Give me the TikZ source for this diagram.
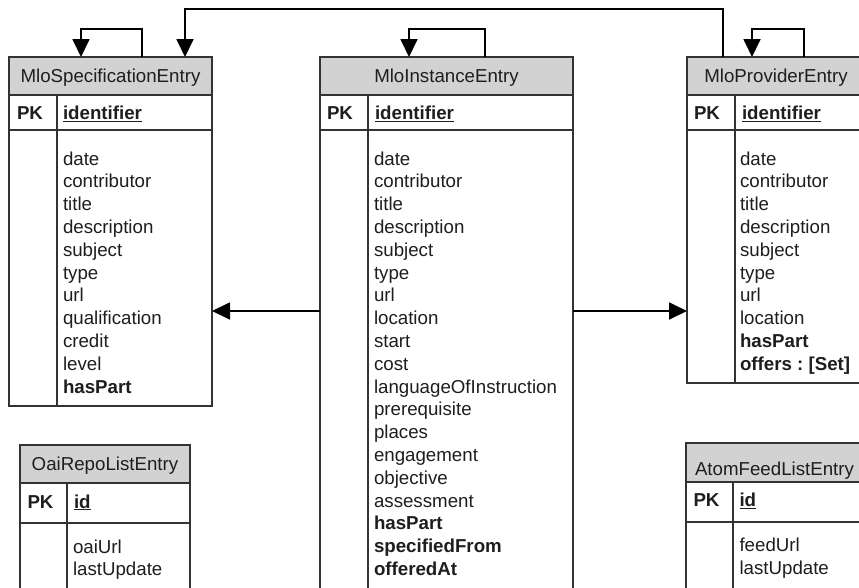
\documentclass[tikz,border=0pt]{standalone}
\usepackage{fontspec}
\setmainfont{Liberation Sans}
\usetikzlibrary{arrows.meta,fit}
\definecolor{hdrfill}{HTML}{D2D2D2}
\definecolor{rule}{HTML}{333333}
\definecolor{ink}{HTML}{1E1E1E}
\frenchspacing

% one entity table: header box, key row, body and the column divider
% #1 name, #2 left, #3 right, #4 top, #5 key-row top, #6 body top, #7 bottom, #8 divider x
\newcommand\erTable[8]{%
  \node[hdr, fit={(#2,#4) (#3,#5)}] (#1-h) {};
  \node[box, fit={(#2,#5) (#3,#6)}] (#1-k) {};
  \node[box, fit={(#2,#6) (#3,#7)}] (#1-b) {};
  \draw[box] (#1-k.north west -| #8,0) -- (#1-b.south west -| #8,0);
}

\begin{document}
\begin{tikzpicture}[x=1pt,y=-1pt,
  box/.style={draw=rule, line width=1.5pt, inner sep=0pt, outer sep=0pt},
  hdr/.style={box, fill=hdrfill},
  txt/.style={inner sep=0pt, outer sep=0pt, text=ink,
    font=\fontsize{18.7pt}{22.8pt}\selectfont},
  title/.style={txt, anchor=base},
  attr/.style={txt, anchor=base west},
  conn/.style={draw=black, line width=1.8pt,
    -{Triangle[length=18pt,width=17pt]}},
]
\clip (0,0) rectangle (859,587);
\fill[white] (0,0) rectangle (859,587);

% tables
\erTable{spec}{9}{212}{57}{95}{130}{406}{57}
\erTable{inst}{320}{573}{57}{95}{130}{620}{368}
\erTable{prov}{687}{865}{57}{95}{130}{383}{735}
\erTable{oai}{20}{190}{445}{483}{523}{620}{67}
\erTable{atom}{686}{863}{443}{482}{522}{620}{733}

% titles
\node[title] (spec-t) at (110.5,82) {MloSpecificationEntry};
\node[title] (inst-t) at (446.5,82) {MloInstanceEntry};
\node[title] (prov-t) at (776,82) {MloProviderEntry};
\node[title] (oai-t) at (105,470.7) {OaiRepoListEntry};
\node[title] (atom-t) at (774.5,475) {AtomFeedListEntry};

% primary keys
\node[attr] (spec-pk) at (17,119.5) {\textbf{PK}};
\node[attr] (spec-id) at (63,119.5) {\textbf{\underline{identifier}}};
\node[attr] (inst-pk) at (327,119.5) {\textbf{PK}};
\node[attr] (inst-id) at (375,119.5) {\textbf{\underline{identifier}}};
\node[attr] (prov-pk) at (694,119.5) {\textbf{PK}};
\node[attr] (prov-id) at (742,119.5) {\textbf{\underline{identifier}}};
\node[attr] (oai-pk) at (27.5,508) {\textbf{PK}};
\node[attr] (oai-id) at (74,508) {\textbf{\underline{id}}};
\node[attr] (atom-pk) at (693.5,506.7) {\textbf{PK}};
\node[attr] (atom-id) at (739.5,506.7) {\textbf{\underline{id}}};

% attributes
\foreach \t [count=\i from 0] in {date,contributor,title,description,subject,type,url,qualification,credit,level,\textbf{hasPart}}
  \node[attr] (spec-a\i) at (63,165+22.8*\i) {\t};
\foreach \t [count=\i from 0] in {date,contributor,title,description,subject,type,url,location,start,cost,languageOfInstruction,prerequisite,places,engagement,objective,assessment,\textbf{hasPart},\textbf{specifiedFrom},\textbf{offeredAt}}
  \node[attr] (inst-a\i) at (374,165+22.8*\i) {\t};
\foreach \t [count=\i from 0] in {date,contributor,title,description,subject,type,url,location,\textbf{hasPart},\textbf{offers : [Set]}}
  \node[attr] (prov-a\i) at (740,165+22.8*\i) {\t};
\foreach \t [count=\i from 0] in {oaiUrl,lastUpdate}
  \node[attr] (oai-a\i) at (73,553+22.8*\i) {\t};
\foreach \t [count=\i from 0] in {feedUrl,lastUpdate}
  \node[attr] (atom-a\i) at (739.5,551.7+22.8*\i) {\t};

% connectors
\coordinate (midrow) at (0,311);
\draw[conn] ([xshift=133pt]spec-h.north west) -- ++(0,-28) -| ([xshift=72pt]spec-h.north west);
\draw[conn] ([xshift=165pt]inst-h.north west) -- ++(0,-28) -| ([xshift=89pt]inst-h.north west);
\draw[conn] ([xshift=117pt]prov-h.north west) -- ++(0,-28) -| ([xshift=65pt]prov-h.north west);
\draw[conn] ([xshift=36pt]prov-h.north west) -- ++(0,-48) -| ([xshift=176pt]spec-h.north west);
\draw[conn] (inst-b.west |- midrow) -- (spec-b.east |- midrow);
\draw[conn] (inst-b.east |- midrow) -- (prov-b.west |- midrow);
\end{tikzpicture}
\end{document}
